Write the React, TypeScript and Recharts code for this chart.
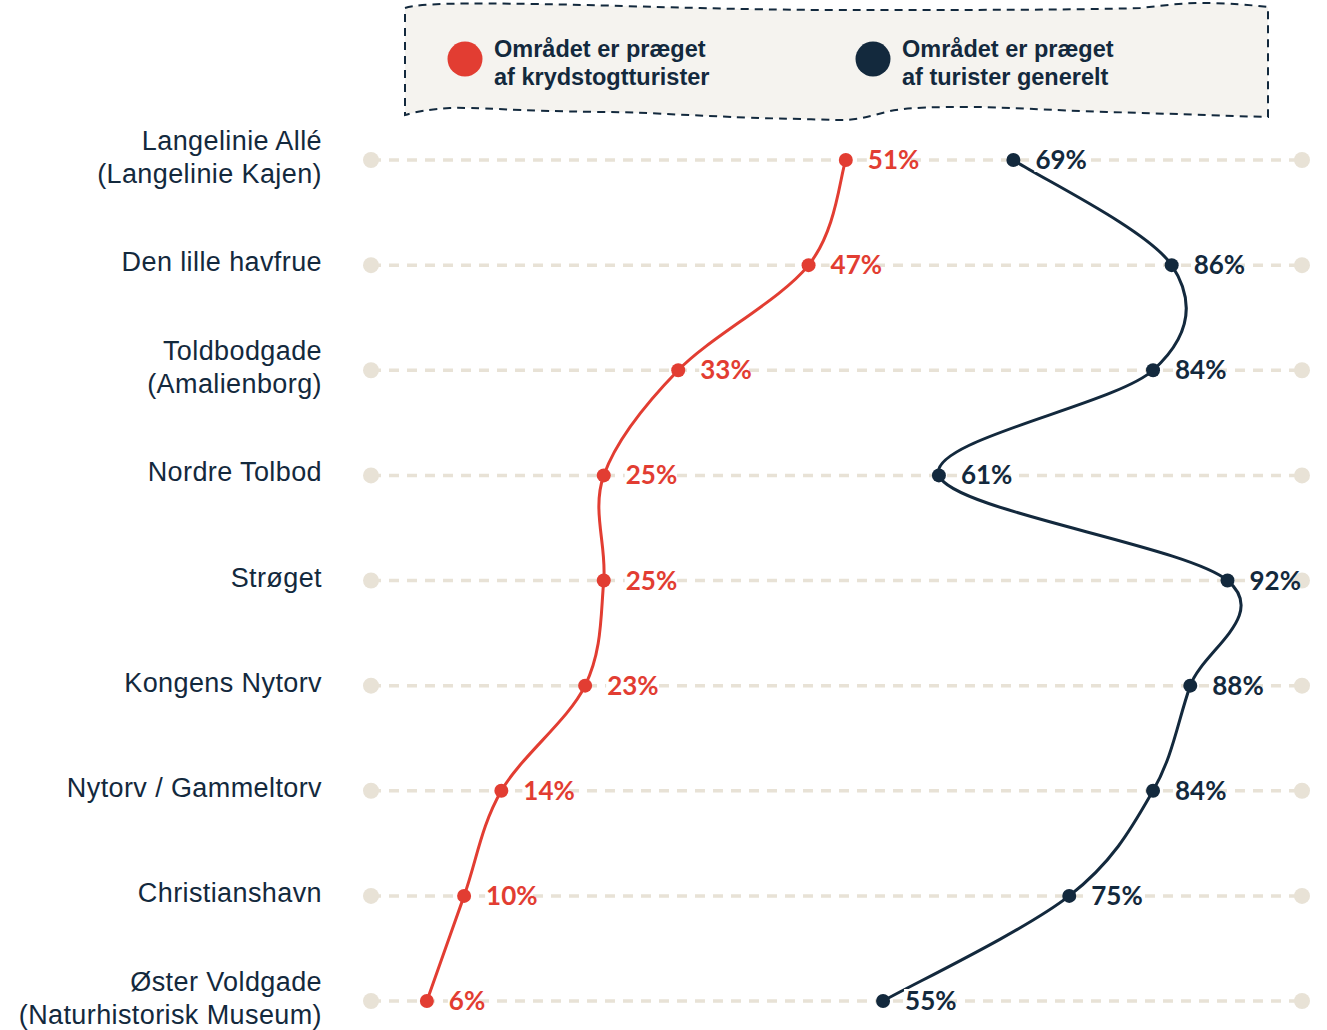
import React from "react"
import {
  LineChart,
  Line,
  XAxis,
  YAxis,
  ReferenceLine,
  ReferenceDot,
  LabelList,
} from "recharts"

const RED = "#e23d32"
const NAVY = "#13293d"
const BEIGE = "#e8e2d6"

// categories (top to bottom), "\n" splits a label over two lines
const places = [
  "Langelinie Allé\n(Langelinie Kajen)",
  "Den lille havfrue",
  "Toldbodgade\n(Amalienborg)",
  "Nordre Tolbod",
  "Strøget",
  "Kongens Nytorv",
  "Nytorv / Gammeltorv",
  "Christianshavn",
  "Øster Voldgade\n(Naturhistorisk Museum)",
]
const cruiseShare = [51, 47, 33, 25, 25, 23, 14, 10, 6]
const touristShare = [69, 86, 84, 61, 92, 88, 84, 75, 55]
const seriesLabels = [
  "Området er præget\naf krydstogtturister",
  "Området er præget\naf turister generelt",
]
const axisEnds = [0, 100]

const data = places.map((name, i) => ({
  name,
  cruise: cruiseShare[i],
  tourist: touristShare[i],
}))

// uniform catmull-rom, passes through every point (like the source's smoothed lines)
function catmullRom(context: any) {
  let pts: number[][] = []
  return {
    areaStart() {},
    areaEnd() {},
    lineStart() {
      pts = []
    },
    point(x: number, y: number) {
      pts.push([+x, +y])
    },
    lineEnd() {
      const n = pts.length
      if (!n) return
      context.moveTo(pts[0][0], pts[0][1])
      for (let i = 0; i < n - 1; i++) {
        const p0 = pts[Math.max(i - 1, 0)]
        const p1 = pts[i]
        const p2 = pts[i + 1]
        const p3 = pts[Math.min(i + 2, n - 1)]
        context.bezierCurveTo(
          p1[0] + (p2[0] - p0[0]) / 6,
          p1[1] + (p2[1] - p0[1]) / 6,
          p2[0] - (p3[0] - p1[0]) / 6,
          p2[1] - (p3[1] - p1[1]) / 6,
          p2[0],
          p2[1]
        )
      }
    },
  }
}

function PlaceTick(props: any) {
  const { y, payload } = props
  const lines = String(payload.value).split("\n")
  const n = lines.length
  return (
    <text
      textAnchor="end"
      fill={NAVY}
      style={{ fontFamily: "'Liberation Sans', Arial, sans-serif", fontSize: 27, letterSpacing: 0.4 }}
    >
      {lines.map((l, i) => (
        <tspan key={i} x={322} y={y + 6 + (i - (n - 1) / 2) * 33}>
          {l}
        </tspan>
      ))}
    </text>
  )
}

function pctLabel(color: string) {
  return (props: any) => {
    const { x, y, value } = props
    const txt = `${value}%`
    const w = txt.length * 16
    return (
      <g>
        <rect x={x + 21} y={y - 12} width={w - 6} height={24} fill="#fff" />
        <text
          x={x + 22}
          y={y + 9}
          fill={color}
          style={{ fontFamily: "Lato, sans-serif", fontWeight: 700, fontSize: 26 }}
        >
          {txt}
        </text>
      </g>
    )
  }
}

function LegendBox() {
  const colors = [RED, NAVY]
  const xs = [465, 873]
  return (
    <svg width={1327} height={130} style={{ position: "absolute", left: 0, top: 0 }}>
      <path
        d="M405,8 C420,3 470,3 533,4 C600,5 650,7 700,8 C780,10 820,10 860,10 C960,10 1080,10 1140,8 C1160,6 1180,3 1200,3 C1230,3 1250,5 1268,7 L1268,117 C1200,115 1150,113 1107,112 C1050,110 1000,107 973,107 C940,107 910,107 890,111 C870,116 860,120 840,120 C800,119 750,118 733,117 C680,115 640,112 600,112 C520,111 470,107 450,108 C430,109 415,112 405,115 Z"
        fill="#f5f3ef"
        stroke={NAVY}
        strokeWidth={2}
        strokeDasharray="8 6"
      />
      {seriesLabels.map((lbl, i) => (
        <g key={i}>
          <circle cx={xs[i]} cy={59} r={17.5} fill={colors[i]} />
          <text
            fill={NAVY}
            style={{ fontFamily: "'Liberation Sans', Arial, sans-serif", fontWeight: 700, fontSize: 23.5 }}
          >
            {lbl.split("\n").map((l, j) => (
              <tspan key={j} x={xs[i] + 29} y={57 + j * 28}>
                {l}
              </tspan>
            ))}
          </text>
        </g>
      ))}
    </svg>
  )
}

export default function App() {
  return (
    <div style={{ position: "absolute", left: 0, top: 0, width: 1327, height: 1030, background: "#fff" }}>
      <LineChart
        width={1327}
        height={1030}
        data={data}
        layout="vertical"
        margin={{ top: 160, right: 25, bottom: 29, left: 31 }}
      >
        <XAxis type="number" domain={[0, 100]} hide />
        <YAxis
          type="category"
          dataKey="name"
          scale="point"
          padding={{ top: 0, bottom: 0 }}
          width={340}
          axisLine={false}
          tickLine={false}
          interval={0}
          tick={<PlaceTick />}
        />
        {places.map((p) => (
          <ReferenceLine key={p} y={p} stroke={BEIGE} strokeWidth={3.5} strokeDasharray="10 8" />
        ))}
        {places.map((p) =>
          axisEnds.map((v) => (
            <ReferenceDot key={p + v} y={p} x={v} r={8} fill={BEIGE} stroke="none" />
          ))
        )}
        <Line
          type={catmullRom as any}
          dataKey="cruise"
          stroke={RED}
          strokeWidth={3}
          dot={{ r: 7, fill: RED, stroke: RED, strokeWidth: 0 }}
          isAnimationActive={false}
        >
          <LabelList dataKey="cruise" content={pctLabel(RED)} />
        </Line>
        <Line
          type={catmullRom as any}
          dataKey="tourist"
          stroke={NAVY}
          strokeWidth={3}
          dot={{ r: 7, fill: NAVY, stroke: NAVY, strokeWidth: 0 }}
          isAnimationActive={false}
        >
          <LabelList dataKey="tourist" content={pctLabel(NAVY)} />
        </Line>
      </LineChart>
      <LegendBox />
    </div>
  )
}
